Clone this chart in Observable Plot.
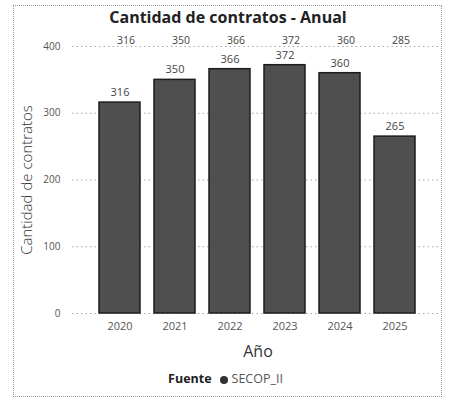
<!DOCTYPE html>
<html>
<head>
<meta charset="utf-8">
<script src="https://cdn.jsdelivr.net/npm/d3@7"></script>
<script src="https://cdn.jsdelivr.net/npm/@observablehq/plot@0.6"></script>
<style>
  html, body { margin: 0; padding: 0; background: #fff; }
  #wrap { position: relative; width: 451px; height: 400px; overflow: hidden; font-family: "Open Sans", sans-serif; }
  #frame { position: absolute; left: 13px; top: 5px; width: 429px; height: 392px; border: 1px dotted #999; box-sizing: border-box; }
  #title { position: absolute; left: 0; width: 456px; top: 6px; text-align: center; font-weight: bold; font-size: 16px; color: #222; }
  #xlabel { position: absolute; left: 0; width: 516px; top: 340px; text-align: center; font-size: 16px; color: #333; }
  #legend { position: absolute; left: 0; width: 451px; top: 370px; text-align: center; font-size: 12.5px; color: #555; }
  #legend b { color: #222; }
  #legend .dot { display: inline-block; width: 8px; height: 8px; border-radius: 50%; background: #333; margin: 0 4px 0 8px; vertical-align: -0.5px; }
  #chart { position: absolute; left: 0; top: 0; }
</style>
</head>
<body>
<div id="wrap">
  <div id="chart"></div>
  <div id="frame"></div>
  <div id="title">Cantidad de contratos - Anual</div>
  <div id="xlabel">Año</div>
  <div id="legend"><b>Fuente</b><span class="dot"></span>SECOP_II</div>
</div>
<script>
const years = ["2020", "2021", "2022", "2023", "2024", "2025"];
const contratos = [316, 350, 366, 372, 360, 265];
const ghostLabels = ["316", "350", "366", "372", "360", "285"];
const yTicks = [0, 100, 200, 300, 400];

const data = years.map((y, i) => ({ year: y, value: contratos[i], ghost: ghostLabels[i] }));

const chart = Plot.plot({
  width: 451,
  height: 400,
  marginLeft: 85,
  marginRight: 22,
  marginTop: 46,
  marginBottom: 87,
  style: { fontFamily: "Open Sans, sans-serif", background: "transparent" },
  x: { domain: years, padding: 0.25, label: null },
  y: { domain: [0, 400], label: null },
  marks: [
    Plot.ruleY(yTicks, { stroke: "#aaa", strokeDasharray: "1.5,3", insetLeft: -13, insetRight: -11 }),
    Plot.barY(data, { x: "year", y: "value", fill: "#4f4f4f", stroke: "#1c1c1c", strokeWidth: 1.5 }),
    Plot.text(data, { x: "year", y: "value", text: d => String(d.value), dy: -10, fontSize: 11, fill: "#444" }),
    Plot.text(data, { x: "year", y: () => 400, text: "ghost", dy: -6, dx: 6, fontSize: 10.5, fill: "#444" }),
    Plot.axisY({ ticks: yTicks, tickSize: 0, tickPadding: 25, fontSize: 10, color: "#555",
      label: "Cantidad de contratos", labelAnchor: "center", labelArrow: "none", labelOffset: 64 }),
    Plot.axisX({ tickSize: 0, tickPadding: 9, fontSize: 11, color: "#555", label: null })
  ]
});
chart.querySelectorAll('[aria-label="y-axis label"] text').forEach(t => { t.setAttribute("font-size", "15"); t.setAttribute("fill", "#333"); t.style.fontWeight = "300"; });
document.getElementById("chart").appendChild(chart);
</script>
</body>
</html>
